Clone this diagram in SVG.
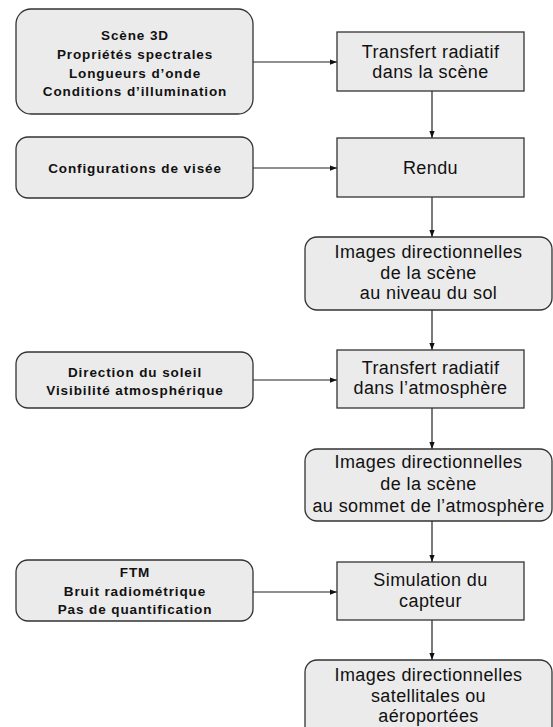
<svg xmlns="http://www.w3.org/2000/svg" width="553" height="727" viewBox="0 0 553 727">
<style>
.box{fill:#ebebeb;stroke:#333;stroke-width:1.3}
.lt{font-family:"Liberation Sans",Arial,sans-serif;font-weight:bold;font-size:13.5px;letter-spacing:0.9px;fill:#111;text-anchor:middle}
.rt{font-family:"Liberation Sans",Arial,sans-serif;font-size:18px;letter-spacing:0.4px;fill:#111;text-anchor:middle}
.con{stroke:#222;stroke-width:1.2;fill:none;marker-end:url(#ah)}
</style>
<defs>
<marker id="ah" viewBox="0 0 8 6" refX="8" refY="3" markerWidth="7" markerHeight="6" markerUnits="userSpaceOnUse" orient="auto">
<path d="M0,0 L8,3 L0,6 Z" fill="#111"/>
</marker>
</defs>
<rect width="553" height="727" fill="#fff"/>
<g id="connectors">
<line class="con" x1="253" y1="62" x2="337" y2="62"/>
<line class="con" x1="253" y1="168" x2="337" y2="168"/>
<line class="con" x1="253" y1="380" x2="337" y2="380"/>
<line class="con" x1="253" y1="592" x2="337" y2="592"/>
<line class="con" x1="432" y1="91" x2="432" y2="138"/>
<line class="con" x1="432" y1="197" x2="432" y2="237"/>
<line class="con" x1="432" y1="310" x2="432" y2="350"/>
<line class="con" x1="432" y1="408" x2="432" y2="449"/>
<line class="con" x1="432" y1="521" x2="432" y2="562"/>
<line class="con" x1="432" y1="620" x2="432" y2="660"/>
</g>
<g id="scene3d">
<rect class="box" x="16" y="9" width="237" height="105" rx="15"/>
<text class="lt" x="135" y="39.5">Scène 3D</text>
<text class="lt" x="135" y="58.5">Propriétés spectrales</text>
<text class="lt" x="135" y="77.5">Longueurs d’onde</text>
<text class="lt" x="135" y="95.5">Conditions d’illumination</text>
</g>
<g id="config">
<rect class="box" x="16" y="137" width="237" height="61" rx="12"/>
<text class="lt" x="135" y="172.5">Configurations de visée</text>
</g>
<g id="direction">
<rect class="box" x="16" y="352" width="237" height="56" rx="12"/>
<text class="lt" x="135" y="376.5">Direction du soleil</text>
<text class="lt" x="135" y="394.5">Visibilité atmosphérique</text>
</g>
<g id="ftm">
<rect class="box" x="16" y="560" width="237" height="61" rx="12"/>
<text class="lt" x="135" y="576.5">FTM</text>
<text class="lt" x="135" y="595.5">Bruit radiométrique</text>
<text class="lt" x="135" y="613.5">Pas de quantification</text>
</g>
<g id="transfert-scene">
<rect class="box" x="337" y="32" width="187" height="59"/>
<text class="rt" x="430.5" y="58">Transfert radiatif</text>
<text class="rt" x="430.5" y="78">dans la scène</text>
</g>
<g id="rendu">
<rect class="box" x="337" y="138" width="187" height="59"/>
<text class="rt" x="430.5" y="174">Rendu</text>
</g>
<g id="images-sol">
<rect class="box" x="305" y="237" width="247" height="73" rx="12"/>
<text class="rt" x="428.5" y="258">Images directionnelles</text>
<text class="rt" x="428.5" y="279">de la scène</text>
<text class="rt" x="428.5" y="299">au niveau du sol</text>
</g>
<g id="transfert-atm">
<rect class="box" x="337" y="350" width="187" height="58"/>
<text class="rt" x="430.5" y="374">Transfert radiatif</text>
<text class="rt" x="430.5" y="394">dans l’atmosphère</text>
</g>
<g id="images-toa">
<rect class="box" x="305" y="449" width="247" height="72" rx="12"/>
<text class="rt" x="428.5" y="468">Images directionnelles</text>
<text class="rt" x="428.5" y="490">de la scène</text>
<text class="rt" x="428.5" y="512">au sommet de l’atmosphère</text>
</g>
<g id="simulation">
<rect class="box" x="337" y="562" width="187" height="58"/>
<text class="rt" x="430.5" y="586">Simulation du</text>
<text class="rt" x="430.5" y="607">capteur</text>
</g>
<g id="images-sat">
<rect class="box" x="305" y="660" width="247" height="85" rx="12"/>
<text class="rt" x="428.5" y="681">Images directionnelles</text>
<text class="rt" x="428.5" y="702">satellitales ou</text>
<text class="rt" x="428.5" y="722">aéroportées</text>
</g>
</svg>
